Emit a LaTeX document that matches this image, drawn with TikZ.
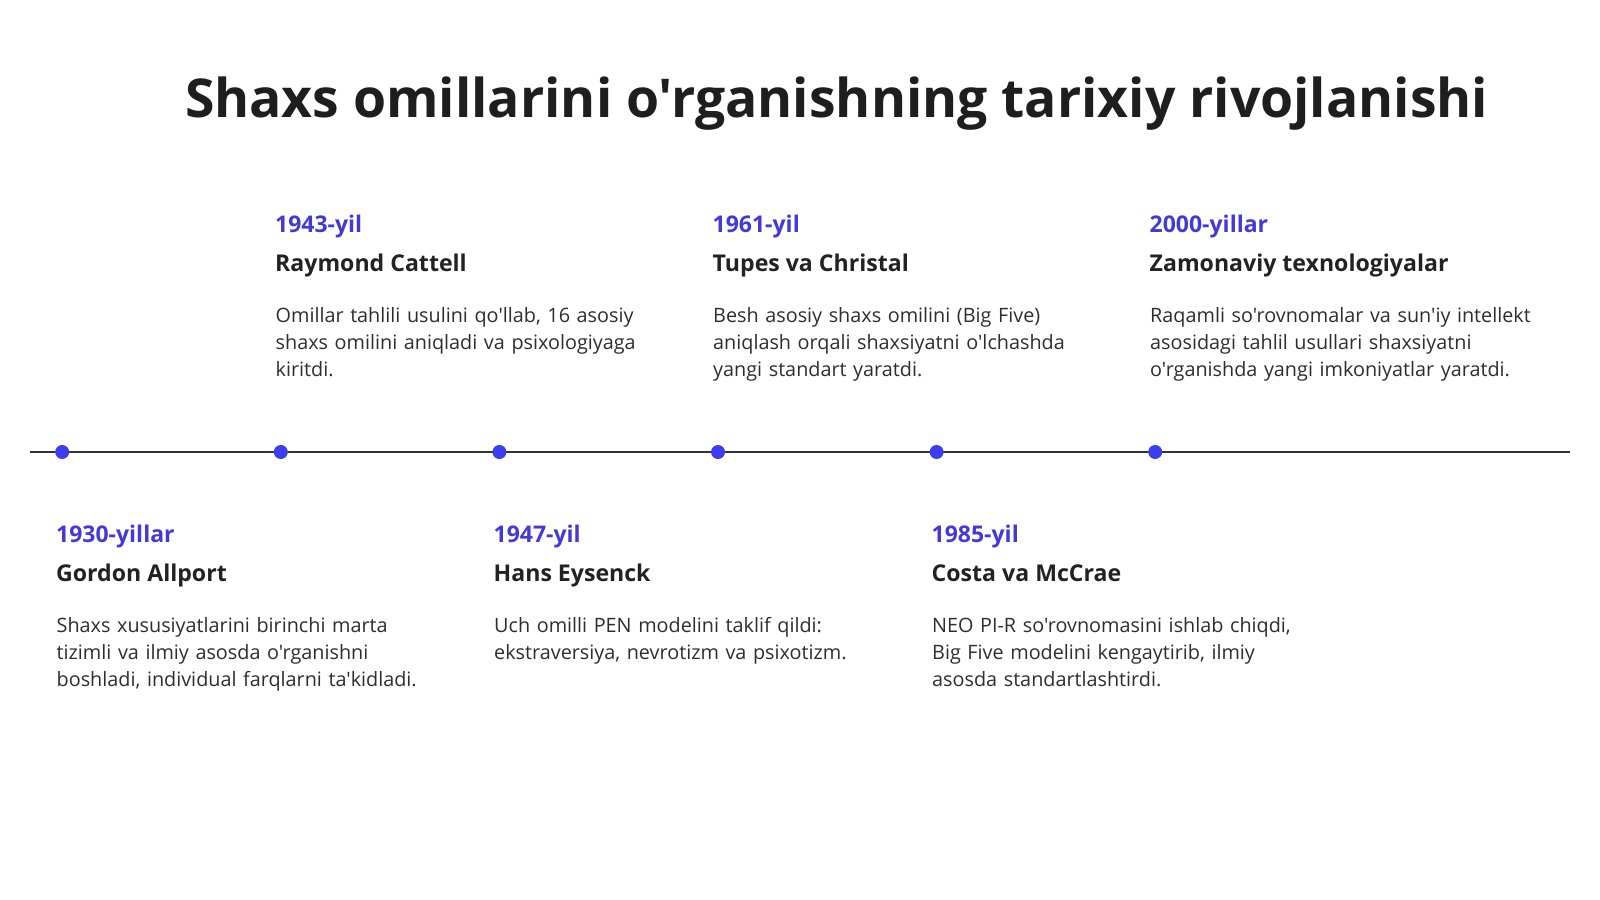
\documentclass[tikz,border=0pt]{standalone}
\usepackage{fontspec}
\setmainfont{Open Sans}[Ligatures=TeXOff]
\definecolor{yearblue}{HTML}{4338D8}
\definecolor{dotblue}{HTML}{3D3DF0}
\definecolor{titlecol}{HTML}{1E1E1E}
\definecolor{namecol}{HTML}{222222}
\definecolor{bodycol}{HTML}{2E2E2E}
\definecolor{linecol}{HTML}{333333}
\begin{document}
\begin{tikzpicture}[x=1pt,y=-1pt,
  yearlbl/.style={anchor=base west, inner sep=0, font=\bfseries\fontsize{23}{28}\selectfont, text=yearblue},
  namelbl/.style={anchor=base west, inner sep=0, font=\bfseries\fontsize{23.1}{28}\selectfont, text=namecol},
  bodytxt/.style={anchor=base west, inner sep=0, align=left, text width=520pt, font=\fontsize{19.8}{27.3}\selectfont, text=bodycol},
  dotnode/.style={circle, fill=dotblue, inner sep=0, minimum size=14pt},
  tline/.style={draw=linecol, line width=1.6pt}]
\useasboundingbox[fill=white] (0,0) rectangle (1600,899);

\node[anchor=base, inner sep=0, font=\bfseries\fontsize{53.5}{60}\selectfont, text=titlecol] (title) at (836.7,117.2) {Shaxs omillarini o'rganishning tarixiy rivojlanishi};

\coordinate (lstart) at (30,452);
\coordinate (lend) at (1570,452);
\draw[tline] (lstart) -- (lend);

\foreach \i in {0,...,5} {
  \node[dotnode] (d\i) at ({62.2+\i*218.6},452) {};
}

% upper entries
\node[yearlbl] (y1) at (275,232.3) {1943-yil};
\node[namelbl] (n1) at (275,271.7) {Raymond Cattell};
\node[bodytxt] (b1) at (275.5,322.2) {Omillar tahlili usulini qo'llab, 16 asosiy\\shaxs omilini aniqladi va psixologiyaga\\kiritdi.};

\node[yearlbl] (y3) at (712.5,232.3) {1961-yil};
\node[namelbl] (n3) at (712.5,271.7) {Tupes va Christal};
\node[bodytxt] (b3) at (713,322.2) {Besh asosiy shaxs omilini (Big Five)\\aniqlash orqali shaxsiyatni o'lchashda\\yangi standart yaratdi.};

\node[yearlbl] (y5) at (1149.5,232.3) {2000-yillar};
\node[namelbl] (n5) at (1149.5,271.7) {Zamonaviy texnologiyalar};
\node[bodytxt] (b5) at (1150,322.2) {Raqamli so'rovnomalar va sun'iy intellekt\\asosidagi tahlil usullari shaxsiyatni\\o'rganishda yangi imkoniyatlar yaratdi.};

% lower entries
\node[yearlbl] (y0) at (56,542.3) {1930-yillar};
\node[namelbl] (n0) at (56,581.7) {Gordon Allport};
\node[bodytxt] (b0) at (56.5,632.2) {Shaxs xususiyatlarini birinchi marta\\tizimli va ilmiy asosda o'rganishni\\boshladi, individual farqlarni ta'kidladi.};

\node[yearlbl] (y2) at (493.5,542.3) {1947-yil};
\node[namelbl] (n2) at (493.5,581.7) {Hans Eysenck};
\node[bodytxt] (b2) at (494,632.2) {Uch omilli PEN modelini taklif qildi:\\ekstraversiya, nevrotizm va psixotizm.};

\node[yearlbl] (y4) at (931.5,542.3) {1985-yil};
\node[namelbl] (n4) at (931.5,581.7) {Costa va McCrae};
\node[bodytxt] (b4) at (932,632.2) {NEO PI-R so'rovnomasini ishlab chiqdi,\\Big Five modelini kengaytirib, ilmiy\\asosda standartlashtirdi.};
\end{tikzpicture}
\end{document}
